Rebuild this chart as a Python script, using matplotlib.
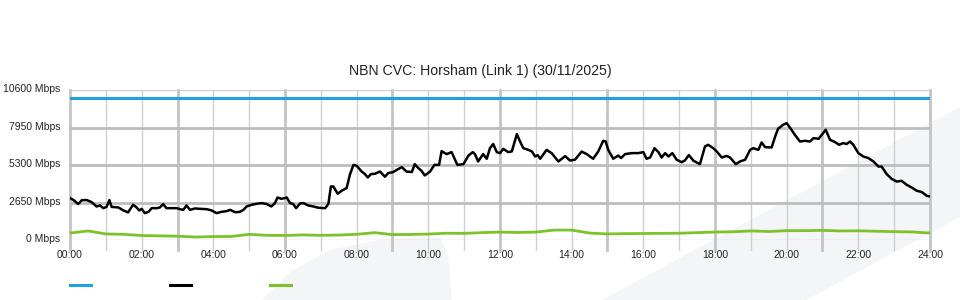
import matplotlib
matplotlib.use("Agg")
import matplotlib.pyplot as plt
from matplotlib.patches import Polygon
import matplotlib.transforms as mtransforms
import numpy as np

title = "NBN CVC: Horsham (Link 1) (30/11/2025)"
y_ticks = [0, 2650, 5300, 7950, 10600]
y_labels = ["0 Mbps", "2650 Mbps", "5300 Mbps", "7950 Mbps", "10600 Mbps"]
x_label_hours = list(range(0, 25, 2))
x_labels = ["%02d:00" % h for h in x_label_hours]

capacity_hours = [0, 24]
capacity = [10000, 10000]

traffic_hours = [
    0.00, 0.09, 0.23, 0.33, 0.47, 0.60, 0.74, 0.84, 0.93, 1.02, 1.10, 1.16, 1.35, 1.49, 1.62, 1.76,
    1.86, 1.93, 2.00, 2.09, 2.19, 2.28, 2.42, 2.51, 2.60, 2.69, 2.83, 2.98, 3.07, 3.16, 3.25, 3.35,
    3.49, 3.63, 3.81, 3.95, 4.09, 4.23, 4.37, 4.47, 4.61, 4.74, 4.84, 4.93, 5.07, 5.21, 5.35, 5.49,
    5.62, 5.72, 5.79, 5.90, 6.05, 6.14, 6.23, 6.31, 6.42, 6.51, 6.65, 6.79, 6.93, 7.12, 7.21, 7.28,
    7.35, 7.47, 7.58, 7.72, 7.81, 7.91, 8.00, 8.14, 8.23, 8.31, 8.40, 8.51, 8.65, 8.79, 8.88, 9.02,
    9.12, 9.26, 9.39, 9.54, 9.62, 9.72, 9.81, 9.90, 10.05, 10.17, 10.30, 10.37, 10.51, 10.65, 10.81,
    10.98, 11.12, 11.24, 11.30, 11.39, 11.53, 11.63, 11.72, 11.81, 11.91, 12.00, 12.09, 12.23, 12.33,
    12.47, 12.56, 12.65, 12.79, 12.89, 12.98, 13.05, 13.12, 13.30, 13.44, 13.63, 13.82, 13.95, 14.09,
    14.28, 14.42, 14.60, 14.74, 14.88, 14.95, 15.02, 15.16, 15.30, 15.38, 15.49, 15.68, 15.86, 16.00,
    16.09, 16.19, 16.31, 16.42, 16.51, 16.61, 16.70, 16.81, 16.93, 17.07, 17.16, 17.27, 17.40, 17.58,
    17.72, 17.81, 17.95, 18.05, 18.19, 18.32, 18.42, 18.58, 18.70, 18.84, 18.98, 19.07, 19.21, 19.30,
    19.40, 19.58, 19.68, 19.76, 19.90, 20.00, 20.09, 20.23, 20.37, 20.51, 20.65, 20.75, 20.89, 21.09,
    21.21, 21.35, 21.46, 21.58, 21.67, 21.77, 21.86, 22.00, 22.14, 22.28, 22.42, 22.56, 22.65, 22.79,
    22.93, 23.07, 23.21, 23.35, 23.49, 23.63, 23.77, 23.91, 24.00,
]
traffic = [
    2960, 2840, 2540, 2820, 2820, 2680, 2370, 2440, 2250, 2340, 2820, 2340, 2300, 2090, 1950, 2490,
    2300, 2090, 2200, 1900, 1990, 2250, 2250, 2300, 2540, 2250, 2250, 2250, 2180, 2130, 2440, 2130,
    2230, 2200, 2180, 2090, 1900, 1990, 2040, 2130, 1960, 1990, 2130, 2370, 2490, 2560, 2610, 2540,
    2370, 2610, 3000, 2910, 3000, 2610, 2540, 2250, 2580, 2610, 2440, 2370, 2280, 2250, 2540, 3780,
    3780, 3270, 3480, 3670, 4610, 5310, 5240, 4840, 4660, 4420, 4660, 4680, 4840, 4470, 4730, 4800,
    4960, 5150, 4840, 4800, 5360, 5080, 4890, 4560, 4840, 5310, 5310, 6280, 6070, 6210, 5310,
    5360, 5970, 6210, 6070, 5550, 6070, 5740, 6490, 6780, 6210, 6140, 6440, 6210, 6260,
    7480, 6960, 6490, 6370, 6260, 5900, 6000, 5740, 6370, 6140, 5550, 5930, 5620, 5670,
    6250, 6070, 5740, 6250, 7010, 6960, 6370, 5740, 5970, 5790, 6070, 6140, 6140, 6210,
    5740, 5830, 6490, 6210, 5830, 6140, 5900, 6140, 5670, 5500, 5620, 6000, 5600, 5360,
    6610, 6730, 6490, 6250, 5830, 5940, 5830, 5360, 5550, 5670, 6370, 6490, 6370, 6890,
    6560, 6540, 7320, 7860, 8140, 8260, 7950, 7430, 6960, 7010, 6960, 7200, 7150, 7790,
    7080, 6920, 6730, 6850, 6780, 6960, 6730, 6140, 5900, 5790, 5550, 5190, 5190, 4660,
    4320, 4130, 4180, 3900, 3710, 3480, 3390, 3120, 3080,
]

upload_hours = [i * 0.5 for i in range(49)]
upload = [
    490, 640, 430, 400, 320, 290, 270, 210, 240, 250, 400, 330, 320, 360, 330, 350,
    400, 520, 380, 390, 420, 480, 470, 520, 560, 530, 560, 700, 700, 490, 430, 450,
    460, 470, 480, 520, 560, 580, 640, 600, 660, 660, 680, 640, 650, 620, 590, 570, 490,
]

plt.rcParams['font.family'] = ['Liberation Sans', 'DejaVu Sans']

fig = plt.figure(figsize=(9.6, 3.0), dpi=100)
W, H = 960.0, 300.0

def fp(pts):
    return [(x / W, 1 - y / H) for x, y in pts]

# background watermark shapes (behind the axes)
band = Polygon(fp([(602, 300), (960, 107), (960, 217), (806, 300)]), closed=True,
               transform=fig.transFigure, facecolor="#f4f5f7", edgecolor="none", zorder=-5)
fig.patches.append(band)
fin = Polygon(fp([(262, 300), (290, 272), (330, 250), (380, 240), (420, 237), (440, 238),
                  (448, 255), (452, 300)]), closed=True,
              transform=fig.transFigure, facecolor="#f4f5f7", edgecolor="none", zorder=-5)
fig.patches.append(fin)

ax = fig.add_axes([70 / W, 1 - 240 / H, 860 / W, 150 / H])
ax.set_zorder(2)
ax.set_facecolor("none")
ax.set_xlim(0, 24)
ax.set_ylim(0, 10600)
for s in ax.spines.values():
    s.set_visible(False)

tick_frac = 10 / 150.0
for h in range(25):
    thick = (h % 3 == 0)
    ax.axvline(h, ymin=-tick_frac, ymax=1, clip_on=False,
               color="#c4c4c4" if thick else "#cfcfcf", lw=2.0 if thick else 1.0, zorder=1)
for v in y_ticks:
    thick = v not in (0, 10600)
    ax.axhline(v, color="#bdbdbd" if thick else "#cfcfcf", lw=2.0 if thick else 1.0, zorder=1)

ax.plot(capacity_hours, capacity, color="#1ea0e6", lw=2.2, zorder=3)
ax.plot(upload_hours, upload, color="#7cc22b", lw=2.0, zorder=3)
ax.plot(traffic_hours, traffic, color="#000000", lw=1.8, zorder=4)

ax.set_xticks(x_label_hours)
ax.set_xticklabels(x_labels)
ax.set_yticks(y_ticks)
ax.set_yticklabels(y_labels)
ax.tick_params(axis="both", length=0, labelsize=7.5, colors="#222222")
ax.tick_params(axis="x", pad=7)
ax.tick_params(axis="y", pad=7)
shift = mtransforms.ScaledTranslation(0, 2 / 100.0, fig.dpi_scale_trans)
for lab in ax.get_yticklabels():
    lab.set_transform(lab.get_transform() + shift)

fig.text(480 / W, 1 - 71 / H, title, ha="center", va="center", fontsize=10.2, color="#222222")

# legend swatches (no labels)
for x0, c in [(70, "#1ea0e6"), (170, "#000000"), (270, "#7cc22b")]:
    fig.add_artist(plt.Line2D([x0 / W, (x0 + 21) / W], [1 - 285 / H, 1 - 285 / H],
                              transform=fig.transFigure, color=c, lw=2.2))

fig.savefig("out.png", dpi=100)
